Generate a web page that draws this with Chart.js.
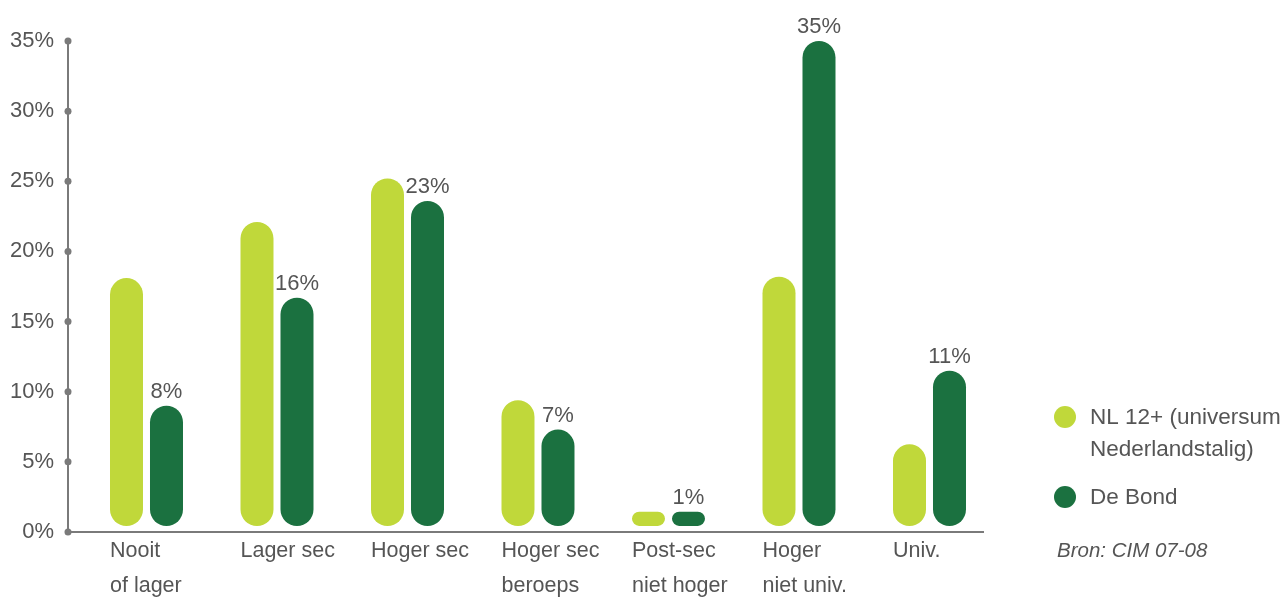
<!DOCTYPE html>
<html>
<head>
<meta charset="utf-8">
<script src="https://cdn.jsdelivr.net/npm/chart.js@4/dist/chart.umd.min.js"></script>
<style>
  html, body { margin: 0; padding: 0; background: #fff; overflow: hidden; }
  #wrap { width: 1285px; height: 597px; position: relative; }
</style>
</head>
<body>
<div id="wrap"><canvas id="chart"></canvas></div>
<script>
// Opleidingsniveau: NL 12+ tegenover De Bond (Bron: CIM 07-08)
const categories = [
  ['Nooit', 'of lager'],
  ['Lager sec'],
  ['Hoger sec'],
  ['Hoger sec', 'beroeps'],
  ['Post-sec', 'niet hoger'],
  ['Hoger', 'niet univ.'],
  ['Univ.']
];
const nlValues = [18.1, 22.1, 25.2, 9.4, 1.45, 18.2, 6.25];
const bondValues = [9.0, 16.7, 23.6, 7.3, 1.45, 35, 11.5];
const bondLabels = ['8%', '16%', '23%', '7%', '1%', '35%', '11%'];
const seriesNames = [['NL 12+ (universum', 'Nederlandstalig)'], ['De Bond']];
const yTicks = [0, 5, 10, 15, 20, 25, 30, 35];
const source = 'Bron: CIM 07-08';

const LIGHT = '#c0d83a';
const DARK = '#1b7140';
const TEXT = '#555555';
const AXIS = '#7a7a7a';
const FONT = '"Liberation Sans", Arial, Helvetica, sans-serif';

// Assen-stippen, categorie-labels, waardelabels en legende
const decorPlugin = {
  id: 'decor',
  afterDatasetsDraw(chart) {
    const ctx = chart.ctx;
    const area = chart.chartArea;
    const y = chart.scales.y;
    ctx.save();

    // stippen op de y-as
    ctx.fillStyle = AXIS;
    yTicks.forEach(t => {
      ctx.beginPath();
      ctx.arc(area.left, y.getPixelForValue(t), 3.5, 0, Math.PI * 2);
      ctx.fill();
    });

    // categorie-labels, links uitgelijnd op de eerste staaf
    ctx.fillStyle = TEXT;
    ctx.font = '21.5px ' + FONT;
    ctx.textAlign = 'left';
    ctx.textBaseline = 'alphabetic';
    const nlMeta = chart.getDatasetMeta(0);
    categories.forEach((lines, i) => {
      const bar = nlMeta.data[i];
      const x = bar.x - bar.width / 2;
      lines.forEach((line, j) => {
        ctx.fillText(line, x, area.bottom + 25 + j * 35);
      });
    });

    // waardelabels boven De Bond
    ctx.font = '22px ' + FONT;
    ctx.textAlign = 'center';
    const bondMeta = chart.getDatasetMeta(1);
    bondMeta.data.forEach((bar, i) => {
      ctx.fillText(bondLabels[i], bar.x, bar.y - 8);
    });

    // legende
    const colors = [LIGHT, DARK];
    const legendTop = [417, 497];
    ctx.font = '22.5px ' + FONT;
    ctx.textAlign = 'left';
    seriesNames.forEach((lines, k) => {
      ctx.fillStyle = colors[k];
      ctx.beginPath();
      ctx.arc(1065, legendTop[k], 11, 0, Math.PI * 2);
      ctx.fill();
      ctx.fillStyle = TEXT;
      lines.forEach((line, j) => {
        ctx.fillText(line, 1090, legendTop[k] + 7 + j * 32);
      });
    });

    ctx.font = 'italic 20.5px ' + FONT;
    ctx.fillText(source, 1057, 557);
    ctx.restore();
  }
};

const ctx = document.getElementById('chart').getContext('2d');
new Chart(ctx, {
  type: 'bar',
  data: {
    datasets: [
      {
        label: seriesNames[0].join(' '),
        data: nlValues.map((v, i) => ({ x: i, y: v })),
        backgroundColor: LIGHT,
      },
      {
        label: seriesNames[1].join(' '),
        data: bondValues.map((v, i) => ({ x: i, y: v })),
        backgroundColor: DARK,
      },
    ],
  },
  options: {
    responsive: true,
    maintainAspectRatio: false,
    animation: false,
    categoryPercentage: 0.613,
    barPercentage: 0.825,
    borderRadius: 17,
    borderSkipped: false,
    base: 0.43,
    layout: { padding: { top: 41, right: 302, left: 0, bottom: 0 } },
    plugins: {
      legend: { display: false },
      tooltip: { enabled: false },
    },
    scales: {
      x: {
        type: 'linear',
        offset: false,
        min: -0.6015,
        max: 6.41,
        afterBuildTicks: s => { s.ticks = categories.map((c, i) => ({ value: i })); },
        afterFit: s => { s.height = 65; },
        ticks: { display: false },
        grid: { display: false, drawTicks: false },
        border: { color: AXIS, width: 2 },
      },
      y: {
        min: 0,
        max: 35,
        afterBuildTicks: s => { s.ticks = yTicks.map(v => ({ value: v })); },
        afterFit: s => { s.width = 68; },
        ticks: {
          padding: 14,
          color: TEXT,
          font: { family: FONT, size: 22 },
          callback: v => v + '%',
        },
        grid: { display: false, drawTicks: false },
        border: { color: AXIS, width: 2 },
      },
    },
  },
  plugins: [decorPlugin],
});
</script>
</body>
</html>
